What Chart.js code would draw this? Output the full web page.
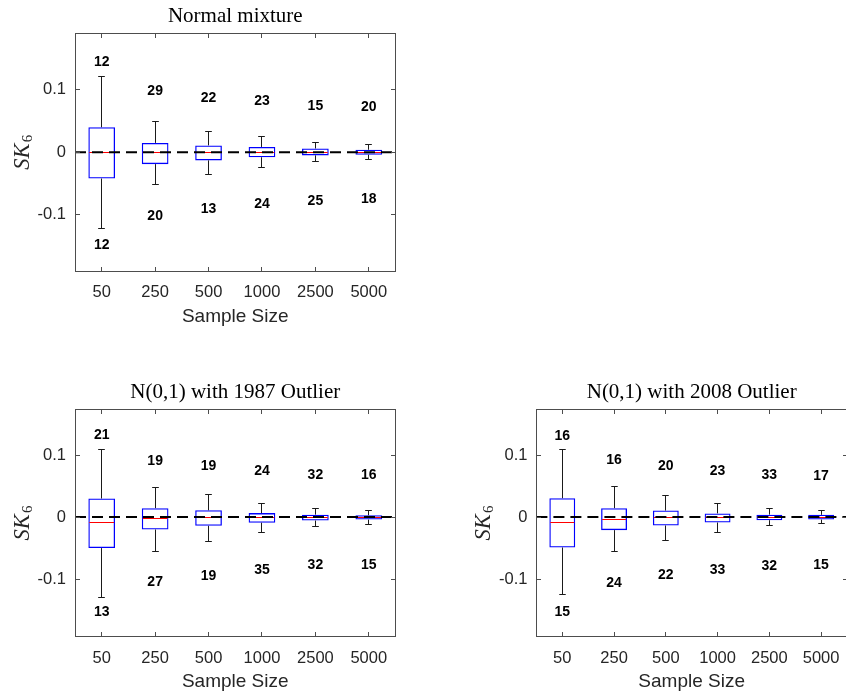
<!DOCTYPE html>
<html>
<head>
<meta charset="utf-8">
<script src="https://cdn.jsdelivr.net/npm/chart.js@4.4.1/dist/chart.umd.min.js"></script>
<style>
  body { margin: 0; background: #fff; width: 846px; height: 695px; overflow: hidden; position: relative; }
  .panel { position: absolute; }
</style>
</head>
<body>
<div class="panel" style="left:0;top:0"><canvas id="mix" width="420" height="335"></canvas></div>
<div class="panel" style="left:0;top:370px"><canvas id="out1987" width="420" height="325"></canvas></div>
<div class="panel" style="left:420px;top:370px"><canvas id="out2008" width="440" height="325"></canvas></div>
<script>
const sampleSizes = ["50", "250", "500", "1000", "2500", "5000"];
const yTicks = [-0.1, 0, 0.1];
const refLevel = 0;

// Normal mixture
const mixHigh = [0.121, 0.050, 0.033, 0.025, 0.016, 0.012];
const mixQ3 = [0.040, 0.015, 0.011, 0.0085, 0.006, 0.004];
const mixMed = [0, -0.001, 0, 0, 0, 0];
const mixQ1 = [-0.042, -0.019, -0.013, -0.008, -0.005, -0.004];
const mixLow = [-0.122, -0.052, -0.036, -0.024, -0.015, -0.011];
const mixUpperCounts = [12, 29, 22, 23, 15, 20];
const mixLowerCounts = [12, 20, 13, 24, 25, 18];
const mixUpperAt = [0.144, 0.097, 0.087, 0.081, 0.074, 0.072];
const mixLowerAt = [-0.148, -0.102, -0.091, -0.083, -0.078, -0.075];

// N(0,1) with 1987 outlier
const o87High = [0.109, 0.048, 0.036, 0.022, 0.0135, 0.011];
const o87Q3 = [0.030, 0.0145, 0.011, 0.0065, 0.004, 0.003];
const o87Med = [-0.009, -0.003, 0, 0, 0, 0];
const o87Q1 = [-0.050, -0.020, -0.014, -0.009, -0.0055, -0.004];
const o87Low = [-0.130, -0.055, -0.039, -0.0245, -0.0145, -0.012];
const o87UpperCounts = [21, 19, 19, 24, 32, 16];
const o87LowerCounts = [13, 27, 19, 35, 32, 15];
const o87UpperAt = [0.132, 0.091, 0.082, 0.074, 0.068, 0.067];
const o87LowerAt = [-0.154, -0.105, -0.095, -0.085, -0.078, -0.077];

// N(0,1) with 2008 outlier
const o08High = [0.109, 0.049, 0.035, 0.0225, 0.014, 0.0106];
const o08Q3 = [0.0305, 0.0145, 0.0106, 0.006, 0.004, 0.0037];
const o08Med = [-0.008, -0.004, -0.0005, 0, 0, 0];
const o08Q1 = [-0.049, -0.021, -0.0135, -0.0087, -0.005, -0.004];
const o08Low = [-0.125, -0.0557, -0.038, -0.0247, -0.014, -0.0107];
const o08UpperCounts = [16, 16, 20, 23, 33, 17];
const o08LowerCounts = [15, 24, 22, 33, 32, 15];
const o08UpperAt = [0.131, 0.0915, 0.082, 0.074, 0.0674, 0.066];
const o08LowerAt = [-0.153, -0.106, -0.093, -0.085, -0.079, -0.077];

const AXIS_GREY = "#262626";
const crisp = (v) => Math.round(v - 0.5) + 0.5;

// whiskers, caps, medians, the dashed zero line and count labels
const boxParts = {
  id: "boxParts",
  afterDatasetsDraw(chart, args, o) {
    const { ctx, chartArea } = chart;
    const y = chart.scales.y;
    const bars = chart.getDatasetMeta(0).data;
    ctx.save();
    ctx.lineWidth = 1;
    bars.forEach((bar, i) => {
      const cx = crisp(bar.x);
      const half = bar.width / 2;
      const cap = bar.width / 4;
      const yHi = crisp(y.getPixelForValue(o.high[i]));
      const yQ3 = y.getPixelForValue(o.q3[i]);
      const yQ1 = y.getPixelForValue(o.q1[i]);
      const yLo = crisp(y.getPixelForValue(o.low[i]));
      ctx.strokeStyle = "#1a1a1a";
      ctx.beginPath();
      ctx.moveTo(cx, yHi); ctx.lineTo(cx, yQ3);
      ctx.moveTo(cx, yQ1); ctx.lineTo(cx, yLo);
      ctx.moveTo(cx - cap / 2, yHi); ctx.lineTo(cx + cap / 2, yHi);
      ctx.moveTo(cx - cap / 2, yLo); ctx.lineTo(cx + cap / 2, yLo);
      ctx.stroke();
      const yMed = crisp(y.getPixelForValue(o.med[i]));
      ctx.strokeStyle = "#ff0000";
      ctx.beginPath();
      ctx.moveTo(bar.x - half + 1, yMed); ctx.lineTo(bar.x + half - 1, yMed);
      ctx.stroke();
    });

    const yRef = y.getPixelForValue(refLevel);
    ctx.strokeStyle = "#000";
    ctx.lineWidth = 2;
    ctx.setLineDash([11, 6]);
    ctx.beginPath();
    ctx.moveTo(chartArea.left, yRef);
    ctx.lineTo(chartArea.right, yRef);
    ctx.stroke();
    ctx.setLineDash([]);

    ctx.fillStyle = "#000";
    ctx.font = "bold 14px 'Liberation Sans', Arial, sans-serif";
    ctx.textAlign = "center";
    ctx.textBaseline = "middle";
    bars.forEach((bar, i) => {
      ctx.fillText(String(o.upperCounts[i]), bar.x, y.getPixelForValue(o.upperAt[i]));
      ctx.fillText(String(o.lowerCounts[i]), bar.x, y.getPixelForValue(o.lowerAt[i]));
    });
    ctx.restore();
  },
};

// axes box with inward ticks on all sides, plus titles
const axesFrame = {
  id: "axesFrame",
  afterDraw(chart, args, o) {
    const { ctx, chartArea: a } = chart;
    const xs = chart.scales.x, ys = chart.scales.y;
    const L = crisp(a.left), R = crisp(a.right), T = crisp(a.top), B = crisp(a.bottom);
    const tl = 4.5;
    ctx.save();
    ctx.strokeStyle = "#4d4d4d";
    ctx.lineWidth = 1;
    ctx.strokeRect(L, T, R - L, B - T);
    ctx.beginPath();
    xs.ticks.forEach((t, i) => {
      const px = crisp(xs.getPixelForTick(i));
      ctx.moveTo(px, B); ctx.lineTo(px, B - tl);
      ctx.moveTo(px, T); ctx.lineTo(px, T + tl);
    });
    ys.ticks.forEach((t, i) => {
      const py = crisp(ys.getPixelForTick(i));
      ctx.moveTo(L, py); ctx.lineTo(L + tl, py);
      ctx.moveTo(R, py); ctx.lineTo(R - tl, py);
    });
    ctx.stroke();

    const cx = (a.left + a.right) / 2;
    const cy = (a.top + a.bottom) / 2;
    ctx.textAlign = "center";
    ctx.textBaseline = "middle";
    ctx.fillStyle = "#000";
    ctx.font = "21px 'Liberation Serif', 'Times New Roman', serif";
    ctx.fillText(o.title, cx, a.top - 17);

    ctx.fillStyle = AXIS_GREY;
    ctx.font = "19px 'Liberation Sans', Arial, sans-serif";
    ctx.fillText("Sample Size", cx, a.bottom + 45.5);

    // italic SK with subscript 6, reading bottom to top
    ctx.translate(a.left - 54, cy);
    ctx.rotate(-Math.PI / 2);
    const main = "italic 22.5px 'Liberation Serif', 'Times New Roman', serif";
    const sub = "15px 'Liberation Serif', 'Times New Roman', serif";
    ctx.font = main;
    const w1 = ctx.measureText("SK").width;
    ctx.font = sub;
    const w2 = ctx.measureText("6").width;
    const x0 = -(w1 + w2 + 1) / 2;
    ctx.textAlign = "left";
    ctx.textBaseline = "alphabetic";
    ctx.font = main;
    ctx.fillText("SK", x0, 7.5);
    ctx.font = sub;
    ctx.fillText("6", x0 + w1 + 1, 11);
    ctx.restore();
  },
};

function makePanel(id, title, area, yMin, yMax, s) {
  const cv = document.getElementById(id);
  const yAxisW = area.left;
  const xAxisH = cv.height - area.bottom;
  new Chart(cv, {
    type: "bar",
    data: {
      labels: sampleSizes,
      datasets: [{
        data: s.q1.map((v, i) => [v, s.q3[i]]),
        backgroundColor: "rgba(0,0,0,0)",
        borderColor: "#0000ff",
        borderWidth: 1.3,
        borderSkipped: false,
        barPercentage: 0.5,
        categoryPercentage: 1,
      }],
    },
    options: {
      responsive: false,
      animation: false,
      events: [],
      layout: {
        padding: { left: 0, top: area.top, right: cv.width - area.right, bottom: 0 },
      },
      scales: {
        x: {
          offset: true,
          grid: { display: false, drawTicks: false },
          border: { display: false },
          ticks: {
            color: AXIS_GREY,
            padding: 11.5,
            autoSkip: false,
            maxRotation: 0,
            font: { family: "'Liberation Sans', Arial, sans-serif", size: 16.5 },
          },
          afterFit: (sc) => { sc.height = xAxisH; },
        },
        y: {
          min: yMin,
          max: yMax,
          grid: { display: false, drawTicks: false },
          border: { display: false },
          afterBuildTicks: (sc) => { sc.ticks = yTicks.map((v) => ({ value: v })); },
          ticks: {
            color: AXIS_GREY,
            padding: 9,
            callback: (v) => String(v),
            font: { family: "'Liberation Sans', Arial, sans-serif", size: 16.5 },
          },
          afterFit: (sc) => { sc.width = yAxisW; },
        },
      },
      plugins: {
        legend: { display: false },
        tooltip: { enabled: false },
        boxParts: s,
        axesFrame: { title },
      },
    },
    plugins: [boxParts, axesFrame],
  });
}

makePanel("mix", "Normal mixture", { left: 75, right: 395.5, top: 33.5, bottom: 271 }, -0.19, 0.19, {
  high: mixHigh, q3: mixQ3, med: mixMed, q1: mixQ1, low: mixLow,
  upperCounts: mixUpperCounts, lowerCounts: mixLowerCounts, upperAt: mixUpperAt, lowerAt: mixLowerAt,
});

makePanel("out1987", "N(0,1) with 1987 Outlier", { left: 75, right: 395.5, top: 39.3, bottom: 266.7 }, -0.193, 0.174, {
  high: o87High, q3: o87Q3, med: o87Med, q1: o87Q1, low: o87Low,
  upperCounts: o87UpperCounts, lowerCounts: o87LowerCounts, upperAt: o87UpperAt, lowerAt: o87LowerAt,
});

makePanel("out2008", "N(0,1) with 2008 Outlier", { left: 116.4, right: 427, top: 39.3, bottom: 266.7 }, -0.193, 0.174, {
  high: o08High, q3: o08Q3, med: o08Med, q1: o08Q1, low: o08Low,
  upperCounts: o08UpperCounts, lowerCounts: o08LowerCounts, upperAt: o08UpperAt, lowerAt: o08LowerAt,
});
</script>
</body>
</html>
